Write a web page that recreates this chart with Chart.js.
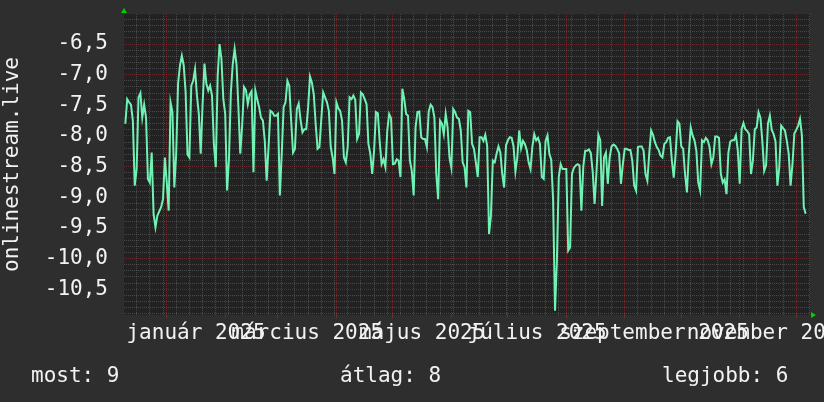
<!DOCTYPE html>
<html>
<head>
<meta charset="utf-8">
<script src="https://cdn.jsdelivr.net/npm/chart.js@4.4.1/dist/chart.umd.min.js"></script>
<style>
  html, body { margin: 0; padding: 0; background: #2e2e2e; overflow: hidden; }
  canvas { display: block; }
</style>
</head>
<body>
<canvas id="rrd" width="824" height="402"></canvas>
<script>
const seriesName = "onlinestream.live"
// one value per day, first one is 22 days before 2025-01-01
const firstDay = -22
const values = [
  -7.80, -7.40, -7.45, -7.49, -7.75, -8.81, -8.54, -7.37, -7.30, -7.70,
  -7.49, -7.70, -8.70, -8.76, -8.27, -9.27, -9.49, -9.30, -9.23, -9.16,
  -9.03, -8.35, -8.76, -9.22, -7.45, -7.61, -8.84, -8.29, -7.14, -6.85,
  -6.69, -6.85, -7.29, -8.30, -8.35, -7.18, -7.10, -6.91, -7.34, -7.64,
  -8.29, -7.48, -6.82, -7.15, -7.26, -7.18, -7.34, -8.13, -8.51, -7.02,
  -6.50, -6.74, -7.40, -7.64, -8.89, -8.38, -7.29, -6.83, -6.58, -6.83,
  -7.53, -8.29, -7.83, -7.20, -7.25, -7.48, -7.32, -7.27, -8.59, -7.26,
  -7.40, -7.53, -7.70, -7.75, -8.08, -8.73, -8.18, -7.59, -7.61, -7.67,
  -7.67, -7.64, -8.97, -8.29, -7.53, -7.45, -7.10, -7.18, -7.75, -8.27,
  -8.21, -7.56, -7.47, -7.74, -7.94, -7.89, -7.89, -7.53, -7.03, -7.13,
  -7.32, -7.80, -8.21, -8.18, -7.72, -7.29, -7.37, -7.45, -7.59, -8.18,
  -8.35, -8.62, -7.45, -7.55, -7.59, -7.75, -8.35, -8.43, -8.18, -7.37,
  -7.40, -7.34, -7.41, -8.05, -7.97, -7.29, -7.32, -7.40, -7.48, -8.13,
  -8.29, -8.62, -8.24, -7.61, -7.63, -8.10, -8.46, -8.38, -8.51, -7.91,
  -7.64, -7.71, -8.46, -8.45, -8.38, -8.40, -8.67, -7.23, -7.40, -7.64,
  -7.67, -8.40, -8.57, -8.97, -7.86, -7.61, -7.60, -8.02, -8.05, -8.05,
  -8.18, -7.60, -7.49, -7.53, -7.70, -8.62, -9.03, -7.75, -7.80, -7.97,
  -7.64, -7.86, -8.35, -8.52, -7.56, -7.61, -7.70, -7.72, -7.91, -8.43,
  -8.51, -8.84, -7.59, -7.61, -8.13, -8.21, -8.43, -8.67, -8.02, -8.02,
  -8.08, -7.98, -8.16, -9.60, -9.30, -8.40, -8.43, -8.29, -8.17, -8.27,
  -8.62, -8.84, -8.15, -8.07, -8.02, -8.03, -8.17, -8.58, -8.35, -7.91,
  -8.20, -8.08, -8.13, -8.23, -8.43, -8.54, -8.17, -7.97, -8.07, -8.03,
  -8.13, -8.67, -8.70, -8.08, -7.99, -8.29, -8.39, -9.05, -10.85, -10.03,
  -8.67, -8.46, -8.54, -8.54, -8.54, -9.87, -9.82, -8.62, -8.52, -8.48,
  -8.46, -8.48, -9.22, -8.50, -8.24, -8.24, -8.22, -8.28, -8.58, -9.11,
  -8.59, -7.98, -8.07, -9.14, -8.35, -8.27, -8.78, -8.35, -8.17, -8.14,
  -8.16, -8.21, -8.28, -8.78, -8.46, -8.21, -8.21, -8.23, -8.23, -8.40,
  -8.81, -8.89, -8.18, -8.17, -8.17, -8.24, -8.62, -8.73, -8.29, -7.91,
  -7.98, -8.10, -8.18, -8.23, -8.32, -8.35, -8.13, -8.10, -8.03, -8.02,
  -8.40, -8.68, -8.29, -7.76, -7.80, -8.17, -8.21, -8.62, -8.92, -8.29,
  -7.86, -7.99, -8.07, -8.24, -8.76, -8.89, -8.07, -8.10, -8.03, -8.07,
  -8.18, -8.46, -8.35, -8.01, -8.01, -8.03, -8.62, -8.76, -8.71, -8.95,
  -8.27, -8.09, -8.07, -8.07, -7.99, -8.24, -8.78, -7.89, -7.79, -7.89,
  -7.92, -7.97, -8.62, -8.40, -7.89, -7.86, -7.61, -7.70, -8.08, -8.57,
  -8.48, -7.80, -7.67, -7.90, -7.97, -8.09, -8.81, -8.51, -7.83, -7.87,
  -7.91, -8.08, -8.29, -8.81, -8.46, -7.96, -7.90, -7.83, -7.72, -7.99,
  -9.16, -9.27
]
const monthNames = ["január", "február", "március", "április", "május", "június",
  "július", "augusztus", "szeptember", "október", "november", "december"]
const labelledMonths = [0, 2, 4, 6, 8, 10]
const summaryTexts = ["most: 9", "átlag: 8", "legjobb: 6"]

const dayOf = (y, m, d) => (Date.UTC(y, m, d) - Date.UTC(2025, 0, 1)) / 864e5
const monthDays = new Set(monthNames.map((n, m) => dayOf(2025, m, 1)))
const labelAt = new Map(labelledMonths.map((m) => [dayOf(2025, m, 1) + 15.5, monthNames[m] + " 2025"]))

const MAJOR = "rgba(170, 50, 50, 0.5)"
const MINOR = "rgba(130, 130, 130, 0.4)"
const TEXT = "#f2f2f2"

Chart.defaults.font.family = "'DejaVu Sans Mono', monospace"
Chart.defaults.font.size = 21
Chart.defaults.color = TEXT

const rrdLook = {
  id: "rrdLook",
  beforeDraw(chart) {
    const { ctx, chartArea: a } = chart
    ctx.save()
    ctx.fillStyle = "#2e2e2e"
    ctx.fillRect(0, 0, chart.width, chart.height)
    ctx.fillStyle = "#222222"
    ctx.fillRect(a.left, a.top, a.right - a.left, a.bottom - a.top)
    ctx.restore()
  },
  afterDraw(chart) {
    const { ctx, chartArea: a } = chart
    ctx.save()
    // arrows at the axis ends
    ctx.fillStyle = "#00d000"
    ctx.beginPath()
    ctx.moveTo(a.left - 3, a.top - 1)
    ctx.lineTo(a.left + 3, a.top - 1)
    ctx.lineTo(a.left, a.top - 6)
    ctx.fill()
    ctx.beginPath()
    ctx.moveTo(a.right + 1, a.bottom - 3)
    ctx.lineTo(a.right + 1, a.bottom + 3)
    ctx.lineTo(a.right + 6, a.bottom)
    ctx.fill()
    // summary line
    ctx.fillStyle = TEXT
    ctx.font = "21px 'DejaVu Sans Mono', monospace"
    ctx.textBaseline = "alphabetic"
    const xs = [31, 340, 662]
    summaryTexts.forEach((t, i) => ctx.fillText(t, xs[i], 382))
    ctx.restore()
  }
}

new Chart(document.getElementById("rrd"), {
  type: "line",
  data: {
    datasets: [
      {
        label: seriesName,
        data: values.map((v, i) => ({ x: firstDay + i, y: v })),
        borderColor: "#70f2b4",
        borderWidth: 2,
        pointRadius: 0,
        tension: 0,
        fill: false,
      },
    ],
  },
  options: {
    responsive: false,
    animation: false,
    devicePixelRatio: 1,
    layout: { padding: { top: 14, right: 14, bottom: 0, left: 0 } },
    plugins: { legend: { display: false }, tooltip: { enabled: false } },
    scales: {
      x: {
        type: "linear",
        min: -22.7,
        max: 341.3,
        afterBuildTicks: (scale) => {
          const days = new Set()
          for (let d = dayOf(2024, 11, 16); d <= scale.max; d += 7) days.add(d)
          monthDays.forEach((d) => days.add(d))
          labelAt.forEach((t, d) => days.add(d))
          scale.ticks = [...days]
            .filter((d) => d >= scale.min && d <= scale.max)
            .sort((p, q) => p - q)
            .map((d) => ({ value: d }))
        },
        afterFit: (scale) => {
          scale.height = 87
          scale.paddingLeft = 0
          scale.paddingRight = 0
        },
        ticks: {
          autoSkip: false,
          maxRotation: 0,
          minRotation: 0,
          padding: 3,
          callback: (v) => labelAt.get(v) || "",
        },
        grid: {
          color: (c) => (monthDays.has(c.tick.value) ? MAJOR : labelAt.has(c.tick.value) ? "transparent" : MINOR),
          tickColor: (c) => (monthDays.has(c.tick.value) ? MAJOR : "transparent"),
          tickLength: 3,
          lineWidth: 1,
        },
        border: { display: false, dash: [1, 1] },
      },
      y: {
        min: -10.92,
        max: -6.01,
        afterBuildTicks: (scale) => {
          const t = []
          for (let k = -109; k <= -61; k++) t.push({ value: k / 10 })
          scale.ticks = t
        },
        afterFit: (scale) => {
          scale.width = 124
          scale.paddingTop = 0
          scale.paddingBottom = 0
        },
        ticks: {
          autoSkip: false,
          padding: 16,
          callback: (v) => (Math.round(v * 10) % 5 === 0 ? v.toFixed(1).replace(".", ",") : ""),
        },
        grid: {
          color: (c) => (Math.round(c.tick.value * 10) % 5 === 0 ? MAJOR : MINOR),
          drawTicks: false,
          lineWidth: 1,
        },
        border: { display: false, dash: [1, 1] },
        title: {
          display: true,
          text: seriesName,
          color: TEXT,
          padding: { top: 0, bottom: 0 },
        },
      },
    },
  },
  plugins: [rrdLook],
})
</script>
</body>
</html>
